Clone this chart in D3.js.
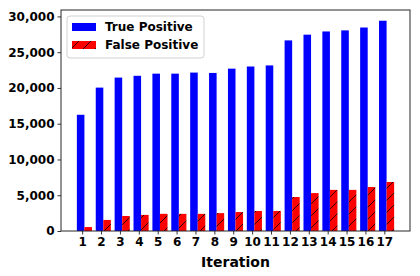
<!DOCTYPE html>
<meta charset="utf-8">
<head>
<style>
  body { margin: 0; background: #fff; }
  svg text { font-family: "DejaVu Sans", sans-serif; font-weight: bold; fill: #000; }
</style>
</head>
<body>
<div id="chart"></div>
<script src="https://d3js.org/d3.v7.min.js"></script>
<script>

// values
var iterations = [1, 2, 3, 4, 5, 6, 7, 8, 9, 10, 11, 12, 13, 14, 15, 16, 17];
var truePositive = [16250, 20050, 21450, 21700, 22000, 22000, 22150, 22100, 22700, 23000, 23150,
                    26650, 27450, 27900, 28050, 28450, 29400];
var falsePositive = [550, 1550, 2100, 2250, 2400, 2400, 2400, 2500, 2650, 2800, 2800,
                     4750, 5300, 5750, 5750, 6150, 6850];
var yTicks = [0, 5000, 10000, 15000, 20000, 25000, 30000];
var seriesNames = ["True Positive", "False Positive"];

var margin = {top: 10, right: 10, bottom: 45, left: 61},
    width = 410 - margin.left,
    height = 231 - margin.top;

var svg = d3.select("#chart").append("svg")
    .attr("width", 420)
    .attr("height", 276);

// hatch for the false positive bars
var defs = svg.append("defs");
var pat = defs.append("pattern")
    .attr("id", "hatch")
    .attr("patternUnits", "userSpaceOnUse")
    .attr("width", 12).attr("height", 12);
pat.append("rect").attr("width", 12).attr("height", 12).attr("fill", "#ff0000");
pat.append("path").attr("d", "M0,12 L12,0 M-3,3 L3,-3 M9,15 L15,9")
    .attr("stroke", "#000").attr("stroke-width", 0.8);

var g = svg.append("g")
    .attr("transform", "translate(" + margin.left + "," + margin.top + ")");

var barW = 0.4;
var x = d3.scaleLinear().domain([-0.12, 18.36]).range([0, width]);
var y = d3.scaleLinear().domain([0, 30900]).range([height, 0]);

g.selectAll(".tp")
    .data(truePositive)
    .enter().append("rect")
    .attr("class", "tp")
    .attr("x", function(d, i) { return x(iterations[i] - 0.28); })
    .attr("width", x(barW) - x(0))
    .attr("y", function(d) { return y(d); })
    .attr("height", function(d) { return y(0) - y(d); })
    .attr("fill", "#0000ff");

g.selectAll(".fp")
    .data(falsePositive)
    .enter().append("rect")
    .attr("class", "fp")
    .attr("x", function(d, i) { return x(iterations[i] + 0.12); })
    .attr("width", x(barW) - x(0))
    .attr("y", function(d) { return y(d); })
    .attr("height", function(d) { return y(0) - y(d); })
    .attr("fill", "url(#hatch)");

// axes
var xAxis = g.append("g")
    .attr("transform", "translate(0," + height + ")")
    .call(d3.axisBottom(x).tickValues(iterations).tickFormat(d3.format("d")).tickSizeOuter(0).tickSize(3.5).tickPadding(3));
var yAxis = g.append("g")
    .call(d3.axisLeft(y).tickValues(yTicks).tickFormat(d3.format(",")).tickSizeOuter(0).tickSize(3.5).tickPadding(3));

[xAxis, yAxis].forEach(function(a) {
  a.select(".domain").remove();
  a.selectAll("line").attr("stroke", "#000").attr("stroke-width", 0.8);
  a.selectAll("text").style("font-size", "12px").style("font-family", "DejaVu Sans").style("font-weight", "bold").attr("fill", "#000");
});

// frame
g.append("rect")
    .attr("width", width).attr("height", height)
    .attr("fill", "none").attr("stroke", "#262626").attr("stroke-width", 1);

g.append("text")
    .attr("x", width / 2).attr("y", height + 36)
    .attr("text-anchor", "middle")
    .style("font-size", "14px")
    .text("Iteration");

// legend
var leg = g.append("g").attr("transform", "translate(6,6)");
leg.append("rect")
    .attr("width", 137).attr("height", 42).attr("rx", 3)
    .attr("fill", "#fff").attr("fill-opacity", 0.8)
    .attr("stroke", "#d0d0d0").attr("stroke-width", 1);
var fills = ["#0000ff", "url(#hatch)"];
seriesNames.forEach(function(name, i) {
  var row = leg.append("g").attr("transform", "translate(0," + (7 + i * 18) + ")");
  row.append("rect").attr("x", 5).attr("y", 0).attr("width", 24).attr("height", 8).attr("fill", fills[i]);
  row.append("text").attr("x", 38).attr("y", 4).attr("dy", "0.35em")
      .style("font-size", "12px").text(name);
});

</script>
</body>
